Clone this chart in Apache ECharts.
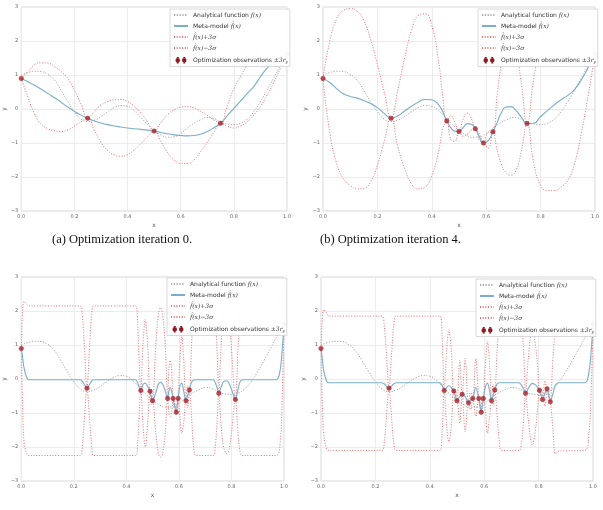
<!DOCTYPE html>
<html><head><meta charset="utf-8">
<script src="https://cdn.jsdelivr.net/npm/echarts@6/dist/echarts.min.js"></script>
<style>html,body{margin:0;padding:0;background:#fff}#c{width:603px;height:510px}</style>
</head><body><div id="c"></div>
<script>
// ---------- DATA ----------
const xTicks = [0, 0.2, 0.4, 0.6, 0.8, 1.0];
const yTicks = [-3, -2, -1, 0, 1, 2, 3];
const captions = ['(a) Optimization iteration 0.', '(b) Optimization iteration 4.'];

// analytical function f(x) (same in all panels)
const fX = [0,0.025,0.05,0.075,0.1,0.125,0.15,0.175,0.2,0.225,0.25,0.275,0.3,0.325,0.35,0.375,0.4,0.425,0.45,0.475,0.5,0.525,0.55,0.575,0.6,0.625,0.65,0.675,0.7,0.725,0.75,0.775,0.8,0.825,0.85,0.875,0.9,0.925,0.95,0.975,1.0];
const fY = [1.00,1.07,1.11,1.10,1.02,0.85,0.55,0.22,-0.08,-0.30,-0.37,-0.33,-0.22,-0.08,0.04,0.10,0.08,-0.05,-0.25,-0.45,-0.63,-0.76,-0.83,-0.82,-0.72,-0.56,-0.42,-0.32,-0.25,-0.28,-0.38,-0.44,-0.46,-0.42,-0.30,-0.08,0.22,0.56,0.92,1.28,1.62];

// panel (a) : iteration 0
const xA = fX;
const metaA = [0.90,0.80,0.70,0.58,0.46,0.33,0.20,0.06,-0.07,-0.18,-0.27,-0.35,-0.41,-0.46,-0.50,-0.53,-0.56,-0.58,-0.60,-0.62,-0.65,-0.69,-0.73,-0.76,-0.78,-0.79,-0.78,-0.74,-0.66,-0.55,-0.42,-0.20,0.02,0.23,0.45,0.66,0.95,1.20,1.40,1.52,1.62];
const upperA = [0.90,1.10,1.30,1.36,1.35,1.25,1.10,0.90,0.55,0.15,-0.27,-0.07,0.12,0.22,0.27,0.28,0.22,0.08,-0.12,-0.38,-0.65,-0.40,-0.17,-0.02,0.05,0.07,0.03,-0.07,-0.19,-0.32,-0.42,0.10,0.60,0.96,1.28,1.50,1.82,2.00,2.02,1.84,1.62];
const lowerA = [0.90,0.35,-0.15,-0.45,-0.58,-0.64,-0.66,-0.62,-0.50,-0.38,-0.27,-0.62,-0.98,-1.22,-1.35,-1.39,-1.34,-1.20,-1.02,-0.82,-0.65,-0.95,-1.28,-1.50,-1.60,-1.60,-1.50,-1.25,-0.98,-0.68,-0.42,-0.50,-0.56,-0.50,-0.38,-0.18,0.08,0.40,0.78,1.20,1.62];
const obsXA = [0,0.25,0.5,0.75,1.0];
const obsYA = [0.9,-0.27,-0.65,-0.42,1.62];

// panel (b) : iteration 4
const xB = [0,0.025,0.05,0.075,0.1,0.125,0.15,0.175,0.2,0.225,0.25,0.275,0.3,0.325,0.35,0.375,0.4,0.425,0.44,0.455,0.47,0.485,0.5,0.515,0.53,0.545,0.56,0.575,0.59,0.6075,0.625,0.64,0.655,0.67,0.69,0.71,0.73,0.75,0.775,0.8,0.825,0.85,0.875,0.9,0.925,0.95,0.975,1.0];
const metaB = [0.90,0.78,0.60,0.45,0.37,0.32,0.25,0.16,0.04,-0.13,-0.27,-0.20,-0.06,0.08,0.20,0.28,0.27,0.12,-0.08,-0.35,-0.55,-0.65,-0.66,-0.55,-0.43,-0.45,-0.58,-0.82,-1.00,-0.93,-0.67,-0.40,-0.12,0.05,0.07,-0.05,-0.25,-0.43,-0.42,-0.22,-0.05,0.12,0.27,0.40,0.58,0.86,1.22,1.62];
const upperB = [0.90,2.00,2.65,2.90,2.95,2.88,2.60,2.05,1.30,0.50,-0.27,0.55,1.50,2.30,2.75,2.80,2.45,1.40,0.40,-0.35,-0.20,-0.40,-0.66,-0.30,-0.12,-0.28,-0.58,-0.72,-1.00,-0.70,-0.67,0.40,1.30,1.90,2.10,1.70,0.70,-0.43,0.90,1.90,2.50,2.80,2.92,2.90,2.85,2.65,2.30,1.62];
const lowerB = [0.90,-0.70,-1.60,-2.05,-2.25,-2.35,-2.33,-2.15,-1.65,-0.95,-0.27,-1.10,-1.75,-2.20,-2.35,-2.30,-1.95,-1.25,-0.60,-0.35,-0.90,-0.95,-0.66,-0.80,-0.75,-0.62,-0.58,-0.92,-1.00,-1.15,-0.67,-1.20,-1.60,-1.85,-1.95,-1.80,-1.20,-0.43,-1.60,-2.25,-2.40,-2.40,-2.30,-2.10,-1.60,-0.70,0.40,1.62];
const obsXB = [0,0.25,0.455,0.5,0.56,0.59,0.625,0.75,1.0];
const obsYB = [0.9,-0.27,-0.35,-0.66,-0.58,-1.0,-0.67,-0.43,1.62];

// panel (c)
const xC = [0,0.004,0.01,0.02,0.03,0.225,0.232,0.24,0.25,0.26,0.268,0.275,0.435,0.443,0.455,0.463,0.472,0.481,0.49,0.495,0.5,0.512,0.522,0.53,0.538,0.548,0.557,0.562,0.567,0.572,0.578,0.584,0.59,0.594,0.597,0.604,0.611,0.618,0.627,0.633,0.64,0.648,0.656,0.665,0.73,0.738,0.745,0.752,0.76,0.77,0.783,0.79,0.8,0.815,0.825,0.832,0.84,0.97,0.985,0.993,1.0];
const metaC = [0.90,0.70,0.35,0.05,-0.02,-0.02,-0.06,-0.16,-0.27,-0.16,-0.06,-0.02,-0.02,-0.12,-0.34,-0.16,-0.12,-0.22,-0.36,-0.52,-0.64,-0.40,-0.15,-0.10,-0.15,-0.35,-0.57,-0.35,-0.25,-0.35,-0.57,-0.80,-0.98,-0.75,-0.57,-0.20,-0.12,-0.35,-0.64,-0.48,-0.32,-0.10,-0.03,-0.02,-0.02,-0.10,-0.25,-0.42,-0.25,-0.08,-0.05,-0.12,-0.30,-0.60,-0.30,-0.10,-0.02,-0.02,0.25,0.85,1.62];
const upperC = [0.90,1.80,2.28,2.20,2.15,2.15,1.90,1.00,-0.27,1.00,1.90,2.15,2.15,1.60,-0.34,1.00,1.75,1.00,-0.36,-0.30,-0.64,1.00,1.90,2.10,1.90,1.00,-0.57,0.30,0.55,0.30,-0.57,-0.65,-0.98,-0.60,-0.57,0.60,1.25,0.60,-0.64,-0.20,-0.32,1.00,1.90,2.15,2.15,1.90,0.90,-0.42,0.90,1.90,2.15,1.90,0.90,-0.60,0.90,1.90,2.15,2.15,2.40,2.75,1.62];
const lowerC = [0.90,-0.50,-1.80,-2.20,-2.25,-2.25,-2.00,-1.20,-0.27,-1.20,-2.00,-2.25,-2.25,-1.90,-0.34,-1.30,-2.00,-1.30,-0.36,-0.75,-0.64,-1.60,-2.20,-2.30,-2.20,-1.60,-0.57,-1.00,-1.10,-1.00,-0.57,-0.95,-0.98,-1.00,-0.57,-1.10,-1.60,-1.30,-0.64,-0.85,-0.32,-1.10,-2.00,-2.25,-2.25,-2.00,-1.30,-0.42,-1.30,-2.00,-2.20,-2.10,-1.60,-0.60,-1.60,-2.10,-2.25,-2.25,-1.90,-0.60,1.62];
const obsXC = [0,0.25,0.455,0.49,0.5,0.557,0.578,0.59,0.597,0.627,0.64,0.752,0.815,1.0];
const obsYC = [0.9,-0.27,-0.34,-0.36,-0.64,-0.57,-0.57,-0.98,-0.57,-0.64,-0.32,-0.42,-0.60,1.62];

// panel (d)
const xD = [0,0.004,0.01,0.02,0.03,0.224,0.232,0.24,0.25,0.26,0.268,0.276,0.437,0.445,0.453,0.462,0.47,0.479,0.488,0.494,0.5,0.51,0.519,0.53,0.542,0.55,0.558,0.569,0.58,0.585,0.589,0.593,0.597,0.604,0.612,0.62,0.627,0.633,0.639,0.647,0.655,0.665,0.728,0.737,0.745,0.752,0.762,0.777,0.79,0.797,0.803,0.809,0.815,0.823,0.831,0.837,0.843,0.852,0.862,0.875,0.97,0.985,0.993,1.0];
const metaD = [0.90,0.65,0.25,-0.05,-0.11,-0.11,-0.14,-0.20,-0.27,-0.20,-0.14,-0.11,-0.11,-0.18,-0.34,-0.25,-0.20,-0.25,-0.35,-0.50,-0.64,-0.52,-0.45,-0.52,-0.70,-0.62,-0.57,-0.25,-0.57,-0.80,-0.98,-0.78,-0.57,-0.25,-0.12,-0.35,-0.64,-0.48,-0.32,-0.15,-0.11,-0.11,-0.11,-0.18,-0.30,-0.42,-0.28,-0.13,-0.18,-0.25,-0.33,-0.45,-0.60,-0.42,-0.29,-0.45,-0.67,-0.45,-0.18,-0.11,-0.11,0.20,0.80,1.62];
const upperD = [0.90,1.60,2.05,1.95,1.85,1.85,1.60,0.80,-0.27,0.80,1.60,1.85,1.85,1.30,-0.34,0.85,1.45,0.85,-0.35,-0.35,-0.64,0.55,-0.45,0.60,-0.70,-0.35,-0.57,0.60,-0.57,-0.70,-0.98,-0.55,-0.57,0.40,1.10,0.40,-0.64,-0.15,-0.32,0.80,1.60,1.85,1.85,1.60,0.80,-0.42,0.60,1.50,0.90,0.30,-0.33,-0.25,-0.60,-0.05,-0.29,-0.35,-0.67,0.50,1.50,1.85,1.85,2.10,2.40,1.62];
const lowerD = [0.90,-0.50,-1.60,-2.05,-2.10,-2.10,-1.90,-1.20,-0.27,-1.20,-1.90,-2.10,-2.10,-1.60,-0.34,-1.40,-1.85,-1.40,-0.35,-0.65,-0.64,-1.30,-0.45,-1.55,-0.70,-0.90,-0.57,-1.10,-0.57,-0.90,-0.98,-1.00,-0.57,-0.90,-1.60,-1.10,-0.64,-0.80,-0.32,-1.00,-1.80,-2.10,-2.10,-1.90,-1.20,-0.42,-1.20,-1.95,-1.40,-0.80,-0.33,-0.65,-0.60,-0.80,-0.29,-0.55,-0.67,-1.40,-2.20,-2.12,-2.10,-1.60,-0.40,1.62];
const obsXD = [0,0.25,0.453,0.488,0.5,0.519,0.542,0.558,0.58,0.589,0.597,0.627,0.639,0.752,0.803,0.815,0.831,0.843,1.0];
const obsYD = [0.9,-0.27,-0.34,-0.35,-0.64,-0.45,-0.70,-0.57,-0.57,-0.98,-0.57,-0.64,-0.32,-0.42,-0.33,-0.60,-0.29,-0.67,1.62];

// ---------- CHART ----------
const N_F = 'Analytical function f(x)';
const N_M = 'Meta-model f\u0302(x)';
const N_U = 'f\u0302(x)+3\u03c3';
const N_L = 'f\u0302(x)\u22123\u03c3';
const N_O = 'Optimization observations \u00b13r_y';

const C_GRAY = '#a8a8a8', C_BLUE = '#7aaec9', C_RED = '#ea6f73', C_OBS = '#b0222b';

const panels = [
  {grid:{left:15, top:7}, leg:{left:170, top:9},
   x:xA, meta:metaA, up:upperA, lo:lowerA, ox:obsXA, oy:obsYA, smooth:0.5},
  {grid:{left:323, top:7}, leg:{left:478, top:9},
   x:xB, meta:metaB, up:upperB, lo:lowerB, ox:obsXB, oy:obsYB, smooth:0.5},
  {grid:{left:12, top:277}, leg:{left:167, top:278},
   x:xC, meta:metaC, up:upperC, lo:lowerC, ox:obsXC, oy:obsYC, smooth:0.35},
  {grid:{left:321, top:277}, leg:{left:476, top:279},
   x:xD, meta:metaD, up:upperD, lo:lowerD, ox:obsXD, oy:obsYD, smooth:0.35}
];

const pairs = (xs, ys) => xs.map((x, i) => [x, ys[i]]);
const minus = v => (v < 0 ? '\u2212' + Math.abs(v) : String(v));

const grids = [], xAxes = [], yAxes = [], series = [], legends = [];
const obsIcon = 'path://M2,0L2,1.5M2,8.5L2,10M12,0L12,1.5M12,8.5L12,10M0,5a2,2 0 1,0 4,0a2,2 0 1,0 -4,0M10,5a2,2 0 1,0 4,0a2,2 0 1,0 -4,0';

panels.forEach((p, i) => {
  grids.push({left:p.grid.left, top:p.grid.top, width:272, height:204, show:true,
    borderColor:'#d6d6d6', borderWidth:1, backgroundColor:'#fff'});
  xAxes.push({type:'value', gridIndex:i, min:xTicks[0], max:xTicks[xTicks.length-1], interval:0.2,
    name:'x', nameLocation:'middle', nameGap:11,
    nameTextStyle:{fontSize:6, color:'#555', fontFamily:'DejaVu Sans'},
    axisLine:{show:false}, axisTick:{show:false},
    axisLabel:{fontSize:5, color:'#666', margin:3, fontFamily:'DejaVu Sans', formatter:v => v.toFixed(1)},
    splitLine:{show:true, lineStyle:{color:'#ececec', width:1}}});
  yAxes.push({type:'value', gridIndex:i, min:yTicks[0], max:yTicks[yTicks.length-1], interval:1,
    name:'y', nameLocation:'middle', nameGap:10,
    nameTextStyle:{fontSize:6, color:'#555', fontFamily:'DejaVu Sans'},
    axisLine:{show:false}, axisTick:{show:false},
    axisLabel:{fontSize:5, color:'#666', margin:3, fontFamily:'DejaVu Sans', formatter:minus},
    splitLine:{show:true, lineStyle:{color:'#ececec', width:1}}});
  const base = {type:'line', xAxisIndex:i, yAxisIndex:i, symbol:'none', smooth:p.smooth, animation:false,
    clip:true};
  series.push(Object.assign({}, base, {name:N_F, data:pairs(fX, fY), smooth:0.5,
    lineStyle:{color:C_GRAY, width:1, type:[1.2,1.6]}, itemStyle:{color:C_GRAY}, z:2}));
  series.push(Object.assign({}, base, {name:N_M, data:pairs(p.x, p.meta),
    lineStyle:{color:C_BLUE, width:1.1, type:'solid'}, itemStyle:{color:C_BLUE}, z:3}));
  series.push(Object.assign({}, base, {name:N_U, data:pairs(p.x, p.up),
    lineStyle:{color:C_RED, width:1, type:[1,1.7]}, itemStyle:{color:C_RED}, z:2}));
  series.push(Object.assign({}, base, {name:N_L, data:pairs(p.x, p.lo),
    lineStyle:{color:C_RED, width:1, type:[1,1.7]}, itemStyle:{color:C_RED}, z:2}));
  series.push({type:'scatter', name:N_O, xAxisIndex:i, yAxisIndex:i, data:pairs(p.ox, p.oy),
    symbol:'circle', symbolSize:4.5, itemStyle:{color:C_OBS, borderColor:'#8c1a20', borderWidth:0.5},
    z:5, animation:false});
  legends.push({left:p.leg.left, top:p.leg.top, orient:'vertical', selectedMode:false,
    backgroundColor:'rgba(255,255,255,0.95)', borderColor:'#d0d0d0', borderWidth:0.8,
    padding:[3,2,2,3], itemGap:5, itemWidth:14, itemHeight:6.5, z:10,
    itemStyle:{opacity:0},
    data:[{name:N_F}, {name:N_M}, {name:N_U}, {name:N_L},
          {name:N_O, icon:obsIcon, itemStyle:{color:C_OBS, opacity:1}}],
    formatter: name => {
      if (name === N_F) return '{t|Analytical function }{m|f(x)}';
      if (name === N_M) return '{t|Meta-model }{m|f\u0302(x)}';
      if (name === N_U) return '{m|f\u0302(x)+3\u03c3}';
      if (name === N_L) return '{m|f\u0302(x)\u22123\u03c3}';
      return '{t|Optimization observations }{m|\u00b13r}{s|y}';
    },
    textStyle:{fontSize:6, color:'#333', padding:[0,0,0,0],
      rich:{
        t:{fontSize:6, color:'#333', fontFamily:'DejaVu Sans'},
        m:{fontSize:6, color:'#333', fontFamily:'DejaVu Serif', fontStyle:'italic'},
        s:{fontSize:4, color:'#333', fontFamily:'DejaVu Serif', fontStyle:'italic', padding:[3,0,0,0]}
      }}
  });
});

const chart = echarts.init(document.getElementById('c'), null, {renderer:'canvas'});
chart.setOption({
  backgroundColor:'#fff',
  animation:false,
  title: [
    {text:captions[0], left:52, top:233, padding:0,
     textStyle:{fontFamily:'Liberation Serif', fontSize:12.5, fontWeight:'normal', color:'#111'}},
    {text:captions[1], left:320, top:233, padding:0,
     textStyle:{fontFamily:'Liberation Serif', fontSize:12.5, fontWeight:'normal', color:'#111'}}
  ],
  grid:grids, xAxis:xAxes, yAxis:yAxes, legend:legends, series:series
});
</script></body></html>
